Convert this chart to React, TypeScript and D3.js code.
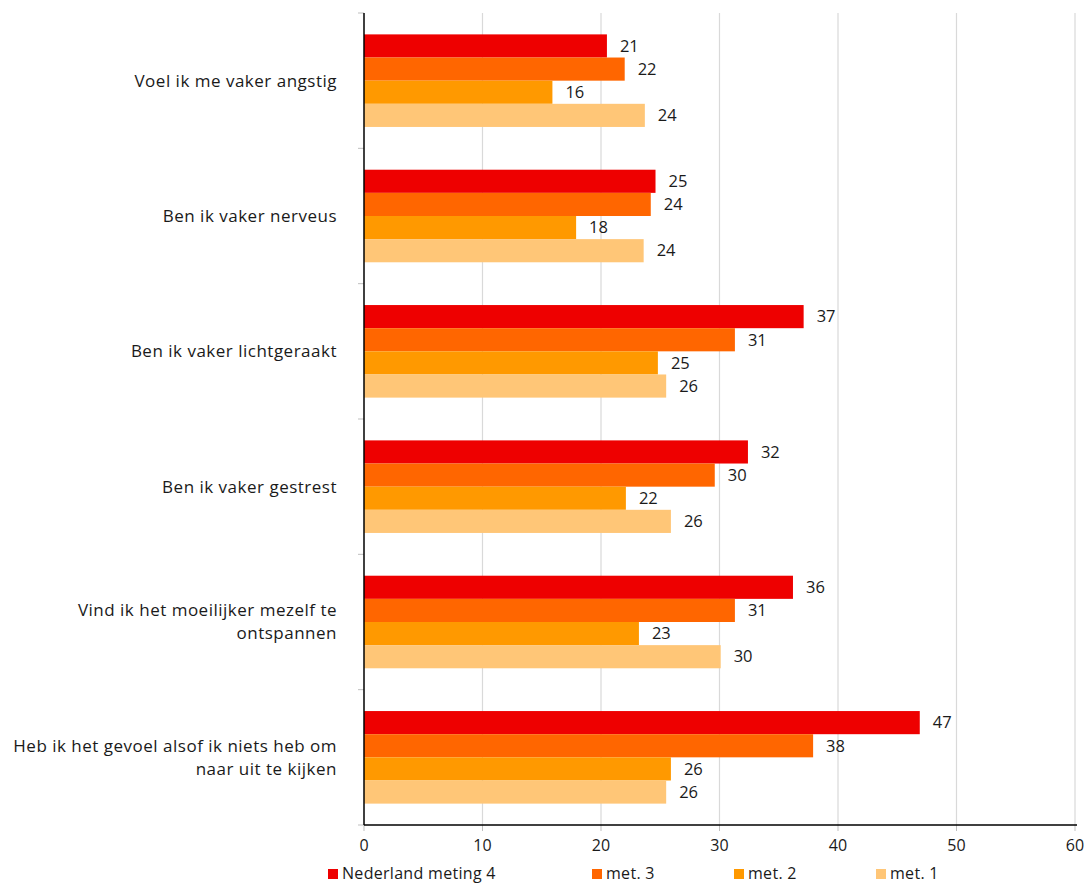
import React from "react";
import * as d3 from "d3";

const categories = [
  ["Voel ik me vaker angstig"],
  ["Ben ik vaker nerveus"],
  ["Ben ik vaker lichtgeraakt"],
  ["Ben ik vaker gestrest"],
  ["Vind ik het moeilijker mezelf te", "ontspannen"],
  ["Heb ik het gevoel alsof ik niets heb om", "naar uit te kijken"],
];
const seriesNames = ["Nederland meting 4", "met. 3", "met. 2", "met. 1"];
const meting4 = [20.5, 24.6, 37.1, 32.4, 36.2, 46.9];
const met3 = [22.0, 24.2, 31.3, 29.6, 31.3, 37.9];
const met2 = [15.9, 17.9, 24.8, 22.1, 23.2, 25.9];
const met1 = [23.7, 23.6, 25.5, 25.9, 30.1, 25.5];
const xTicks = [0, 10, 20, 30, 40, 50, 60];

const seriesValues = [meting4, met3, met2, met1];
const colors = ["#EE0000", "#FF6600", "#FF9900", "#FFC677"];

const W = 1086;
const H = 884;
const left = 364;
const right = 1075;
const top = 13;
const bottom = 825;
const FONT = "'Open Sans', 'Noto Sans', sans-serif";
const TEXT = "#1a1a1a";

export default function App() {
  const x = d3.scaleLinear().domain([0, 60]).range([left, right]);
  const y = d3
    .scaleBand<number>()
    .domain(d3.range(categories.length))
    .range([top, bottom])
    .paddingInner(0)
    .paddingOuter(0);
  const bw = y.bandwidth();
  const inner = d3
    .scaleBand<number>()
    .domain(d3.range(seriesNames.length))
    .range([bw * 0.158, bw * 0.842])
    .padding(0);
  const legendX = [328, 592, 734, 876];

  return (
    <svg
      width={W}
      height={H}
      style={{ position: "absolute", left: 0, top: 0, background: "#fff" }}
      fontFamily={FONT}
    >
      {/* gridlines */}
      {xTicks.slice(1).map((t) => (
        <line key={"g" + t} x1={x(t)} x2={x(t)} y1={top} y2={bottom} stroke="#d9d9d9" strokeWidth={1.2} />
      ))}
      {/* bars */}
      {categories.map((_, ci) =>
        seriesValues.map((vals, si) => (
          <rect
            key={`b${ci}-${si}`}
            x={x(0)}
            y={(y(ci) as number) + (inner(si) as number)}
            width={x(vals[ci]) - x(0)}
            height={inner.bandwidth()}
            fill={colors[si]}
          />
        ))
      )}
      {/* value labels */}
      {categories.map((_, ci) =>
        seriesValues.map((vals, si) => (
          <text
            key={`l${ci}-${si}`}
            x={x(vals[ci]) + 13}
            y={(y(ci) as number) + (inner(si) as number) + inner.bandwidth() / 2}
            dy="0.35em"
            fontSize={16.5}
            fill={TEXT}
          >
            {Math.round(vals[ci])}
          </text>
        ))
      )}
      {/* y axis ticks */}
      {d3.range(categories.length + 1).map((i) => {
        const yy = top + i * bw;
        return <line key={"yt" + i} x1={left - 6} x2={left} y1={yy} y2={yy} stroke="#bfbfbf" strokeWidth={1} />;
      })}
      {/* x axis ticks */}
      {xTicks.map((t) => (
        <line key={"xt" + t} x1={x(t)} x2={x(t)} y1={bottom} y2={bottom + 6} stroke="#bfbfbf" strokeWidth={1} />
      ))}
      <line x1={left} x2={left} y1={top} y2={bottom} stroke="#000" strokeWidth={1.5} />
      <line x1={left} x2={right + 2} y1={bottom} y2={bottom} stroke="#000" strokeWidth={1.5} />
      {/* x tick labels */}
      {xTicks.map((t) => (
        <text key={"xl" + t} x={x(t)} y={845} dy="0.35em" textAnchor="middle" fontSize={16} fill={TEXT}>
          {t}
        </text>
      ))}
      {/* category labels */}
      {categories.map((lines, ci) => {
        const cy = (y(ci) as number) + bw / 2;
        const lh = 23;
        return (
          <text key={"c" + ci} textAnchor="end" fontSize={17} letterSpacing={0.5} fill={TEXT}>
            {lines.map((ln, li) => (
              <tspan key={li} x={337} y={cy + (li - (lines.length - 1) / 2) * lh} dy="0.35em">
                {ln}
              </tspan>
            ))}
          </text>
        );
      })}
      {/* legend */}
      {seriesNames.map((n, i) => (
        <g key={"lg" + i}>
          <rect x={legendX[i]} y={869} width={10} height={10} fill={colors[i]} />
          <text x={legendX[i] + 14} y={874} dy="0.33em" fontSize={16} letterSpacing={0.3} fill={TEXT}>
            {n}
          </text>
        </g>
      ))}
    </svg>
  );
}
